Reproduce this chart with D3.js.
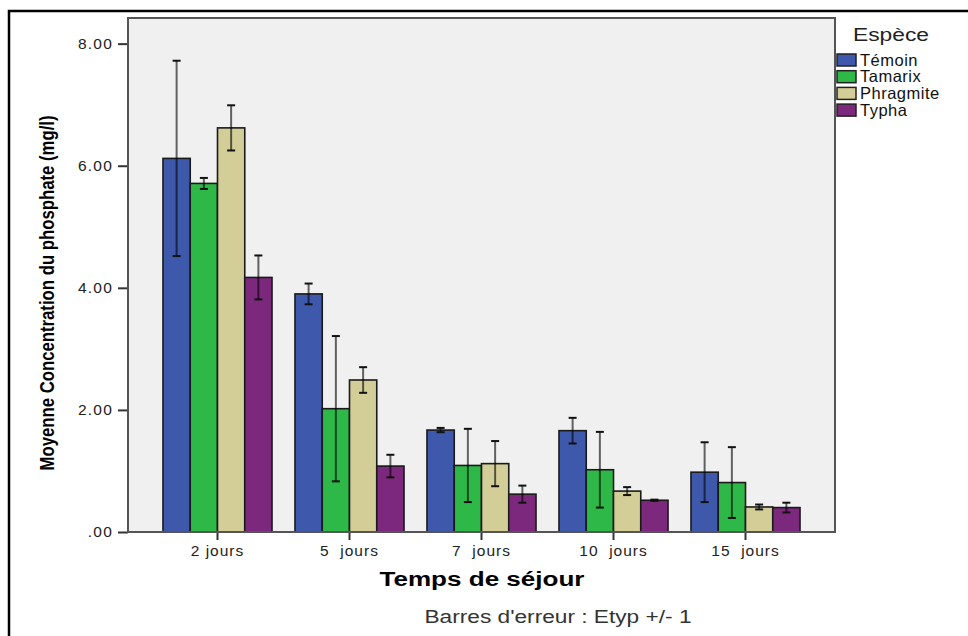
<!DOCTYPE html>
<html lang="fr">
<head>
  <meta charset="UTF-8">
  <title>Concentration du phosphate</title>
  <script src="https://d3js.org/d3.v7.min.js"></script>
  <style>
    body { margin: 0; background: #fff; }
    text { font-family: "Liberation Sans", Arial, sans-serif; }
    .axis path { display: none; }
    .axis line { stroke: #333; stroke-width: 2px; }
    .axis text { fill: #222; }
  </style>
</head>
<body>
<script>
  const categories = ["2 jours", "5  jours", "7  jours", "10  jours", "15  jours"];
  const species = ["Témoin", "Tamarix", "Phragmite", "Typha"];
  const colors = ["#3e58ac", "#2eb848", "#d3ce97", "#7c287d"];

  const temoin    = [6.12, 3.90, 1.67, 1.66, 0.98];
  const tamarix   = [5.71, 2.02, 1.09, 1.02, 0.81];
  const phragmite = [6.62, 2.49, 1.12, 0.67, 0.41];
  const typha     = [4.17, 1.08, 0.62, 0.52, 0.40];

  const temoinErr    = [1.60, 0.17, 0.035, 0.21, 0.49];
  const tamarixErr   = [0.09, 1.19, 0.60, 0.62, 0.58];
  const phragmiteErr = [0.37, 0.21, 0.37, 0.065, 0.04];
  const typhaErr     = [0.36, 0.185, 0.14, 0.01, 0.08];

  const yTicks = [0, 2, 4, 6, 8];
  const yTickLabels = [".00", "2.00", "4.00", "6.00", "8.00"];

  const means = [temoin, tamarix, phragmite, typha];
  const errs = [temoinErr, tamarixErr, phragmiteErr, typhaErr];

  const W = 968, H = 636;
  const plot = { left: 128, top: 18, right: 835, bottom: 532 };

  const svg = d3.select("body").append("svg")
    .attr("width", W)
    .attr("height", H);

  // outer frame
  svg.append("rect")
    .attr("x", 9).attr("y", 11)
    .attr("width", W + 20).attr("height", H + 20)
    .attr("fill", "#fff")
    .attr("stroke", "#000")
    .attr("stroke-width", 2.5);

  const x = d3.scaleBand()
    .domain(categories)
    .range([plot.left, plot.right])
    .paddingInner(0.174)
    .paddingOuter(0.265);

  const xInner = d3.scaleBand()
    .domain(species)
    .range([0, x.bandwidth()]);

  const y = d3.scaleLinear()
    .domain([0, 8.42])
    .range([plot.bottom, plot.top]);

  // plot background
  svg.append("rect")
    .attr("x", plot.left).attr("y", plot.top)
    .attr("width", plot.right - plot.left)
    .attr("height", plot.bottom - plot.top)
    .attr("fill", "#f0f0f0");

  // y axis
  const yAxis = svg.append("g")
    .attr("class", "axis")
    .attr("transform", "translate(" + plot.left + ",0)")
    .call(d3.axisLeft(y).tickValues(yTicks).tickSize(10).tickPadding(5)
      .tickFormat((d, i) => yTickLabels[i]));
  yAxis.selectAll("text")
    .style("font-size", "15.5px")
    .style("letter-spacing", "1.2px");

  // x axis
  const xAxis = svg.append("g")
    .attr("class", "axis")
    .attr("transform", "translate(0," + plot.bottom + ")")
    .call(d3.axisBottom(x).tickSize(8).tickPadding(5));
  xAxis.selectAll("text")
    .style("font-size", "15.5px")
    .style("letter-spacing", "1px")
    .style("white-space", "pre");

  // bars
  const rows = [];
  categories.forEach((c, ci) => {
    species.forEach((s, si) => {
      rows.push({ cat: c, sp: s, color: colors[si], v: means[si][ci], e: errs[si][ci] });
    });
  });

  svg.append("g").selectAll("rect")
    .data(rows)
    .join("rect")
    .attr("x", d => x(d.cat) + xInner(d.sp))
    .attr("y", d => y(d.v))
    .attr("width", xInner.bandwidth())
    .attr("height", d => y(0) - y(d.v))
    .attr("fill", d => d.color)
    .attr("stroke", "#1a1a1a")
    .attr("stroke-width", 1.6);

  // error bars
  const eb = svg.append("g").selectAll("g")
    .data(rows)
    .join("g")
    .attr("transform", d => "translate(" + (x(d.cat) + xInner(d.sp) + xInner.bandwidth() / 2) + ",0)");

  eb.append("line")
    .attr("y1", d => y(d.v + d.e))
    .attr("y2", d => y(d.v - d.e))
    .attr("stroke", "rgba(0,0,0,0.6)")
    .attr("stroke-width", 2);

  eb.selectAll(".cap")
    .data(d => [d.v + d.e, d.v - d.e])
    .join("line")
    .attr("class", "cap")
    .attr("x1", -4).attr("x2", 4)
    .attr("y1", d => y(d)).attr("y2", d => y(d))
    .attr("stroke", "#111")
    .attr("stroke-width", 2);

  // plot border
  svg.append("rect")
    .attr("x", plot.left).attr("y", plot.top)
    .attr("width", plot.right - plot.left)
    .attr("height", plot.bottom - plot.top)
    .attr("fill", "none")
    .attr("stroke", "#555")
    .attr("stroke-width", 2);

  // axis titles
  svg.append("text")
    .attr("transform", "translate(54," + ((plot.top + plot.bottom) / 2 + 18) + ") rotate(-90)")
    .attr("text-anchor", "middle")
    .attr("textLength", 355)
    .attr("lengthAdjust", "spacingAndGlyphs")
    .style("font-family", "'Liberation Sans Narrow', 'Liberation Sans', Arial, sans-serif")
    .style("font-size", "21px")
    .style("font-weight", "bold")
    .text("Moyenne Concentration du phosphate (mg/l)");

  svg.append("text")
    .attr("x", 482).attr("y", 586)
    .attr("text-anchor", "middle")
    .attr("textLength", 205)
    .attr("lengthAdjust", "spacingAndGlyphs")
    .style("font-size", "20px")
    .style("font-weight", "bold")
    .text("Temps de séjour");

  svg.append("text")
    .attr("x", 558).attr("y", 623)
    .attr("text-anchor", "middle")
    .attr("textLength", 267)
    .attr("lengthAdjust", "spacingAndGlyphs")
    .style("font-size", "17.5px")
    .style("fill", "#333")
    .text("Barres d'erreur : Etyp +/- 1");

  // legend
  svg.append("text")
    .attr("x", 853).attr("y", 41)
    .attr("textLength", 76)
    .attr("lengthAdjust", "spacingAndGlyphs")
    .style("font-size", "18px")
    .style("fill", "#222")
    .text("Espèce");

  const legend = svg.append("g").selectAll("g")
    .data(species)
    .join("g")
    .attr("transform", (d, i) => "translate(837," + (54 + i * 16.7) + ")");

  legend.append("rect")
    .attr("width", 19).attr("height", 12)
    .attr("fill", (d, i) => colors[i])
    .attr("stroke", "#222")
    .attr("stroke-width", 1.5);

  legend.append("text")
    .attr("x", 23).attr("y", 11.5)
    .style("font-size", "16.5px")
    .style("letter-spacing", "0.5px")
    .style("fill", "#111")
    .text(d => d);
</script>
</body>
</html>
